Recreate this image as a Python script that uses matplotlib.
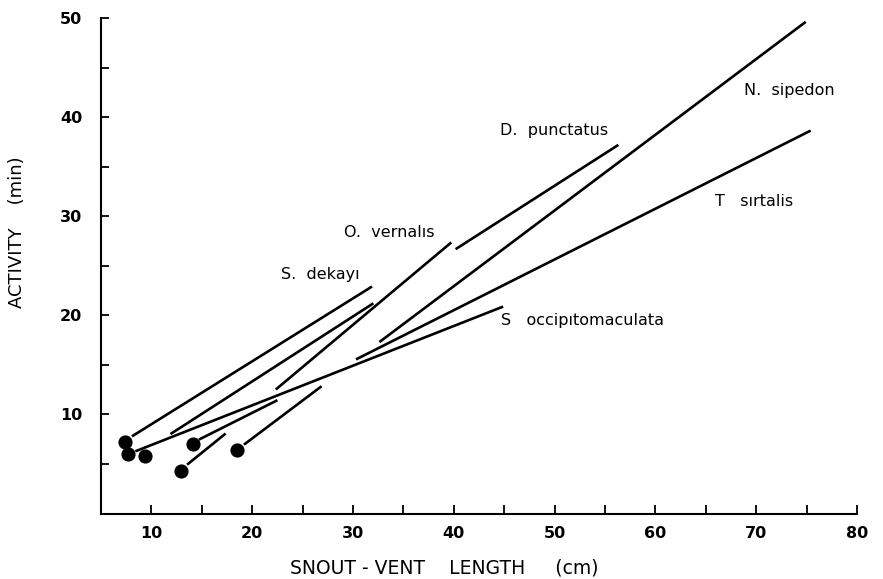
import matplotlib
matplotlib.use("Agg")
import matplotlib.pyplot as plt
from matplotlib.ticker import FixedLocator

# ---- data ----
# regression line segments: (x_start, y_start, x_end, y_end)
species = ["S. dekayi", "S. dekayi 2", "O. vernalis", "D. punctatus",
           "N. sipedon", "T. sirtalis", "S. occipitomaculata",
           "small 1", "small 2", "small 3"]
x_start = [8.07, 11.89, 22.34, 40.18, 32.62, 30.30, 8.41, 14.71, 13.54, 19.18]
y_start = [7.79, 8.02, 12.52, 26.69, 17.31, 15.56, 6.28, 7.46, 4.93, 6.95]
x_end = [31.89, 32.02, 39.75, 56.33, 74.91, 75.40, 44.89, 22.50, 17.36, 26.88]
y_end = [22.92, 21.22, 27.37, 37.22, 49.64, 38.66, 20.89, 11.44, 8.07, 12.85]

# single-value points
pt_x = [7.34, 7.67, 9.40, 14.11, 12.95, 18.46]
pt_y = [7.23, 5.97, 5.84, 7.02, 4.25, 6.38]

# species labels: text, x, y(baseline), horizontal alignment
lab_text = ["S.  dekayı", "O.  vernalıs", "D.  punctatus", "N.  sipedon",
            "T   sırtalis", "S   occipıtomaculata"]
lab_x = [26.78, 33.61, 49.95, 73.31, 69.82, 44.73]
lab_y = [23.65, 27.87, 38.23, 42.21, 31.07, 19.03]
lab_ha = ["center", "center", "center", "center", "center", "left"]

x_ticks = [10, 20, 30, 40, 50, 60, 70, 80]
x_minor = [5, 15, 25, 35, 45, 55, 65, 75]
y_ticks = [10, 20, 30, 40, 50]
y_minor = [5, 15, 25, 35, 45]

plt.rcParams['font.family'] = ['DejaVu Sans']

fig = plt.figure(figsize=(8.83, 5.79), dpi=100)
ax = fig.add_axes([101 / 883, 1 - 513.5 / 579, 756 / 883, (513.5 - 18.3) / 579])

for xs, ys, xe, ye in zip(x_start, y_start, x_end, y_end):
    ax.plot([xs, xe], [ys, ye], color="black", lw=1.9, solid_capstyle="butt")

ax.plot(pt_x, pt_y, linestyle="none", marker="o", ms=9.2, color="black")

for t, x, y, ha in zip(lab_text, lab_x, lab_y, lab_ha):
    ax.text(x, y, t, ha=ha, va="baseline", fontsize=11.5, color="black")

ax.set_xlim(5, 80)
ax.set_ylim(0, 50)
ax.xaxis.set_major_locator(FixedLocator(x_ticks))
ax.xaxis.set_minor_locator(FixedLocator(x_minor))
ax.yaxis.set_major_locator(FixedLocator(y_ticks))
ax.yaxis.set_minor_locator(FixedLocator(y_minor))
ax.set_xticklabels([str(v) for v in x_ticks])
ax.set_yticklabels([str(v) for v in y_ticks])

for s in ["top", "right"]:
    ax.spines[s].set_visible(False)
for s in ["left", "bottom"]:
    ax.spines[s].set_linewidth(1.5)

ax.tick_params(axis="x", which="both", direction="in", length=6.5, width=1.3,
               pad=9, labelsize=11.5)
ax.tick_params(axis="y", which="both", direction="in", length=5.5, width=1.3,
               pad=13.5, labelsize=11.5)
for lab in ax.get_xticklabels() + ax.get_yticklabels():
    lab.set_fontweight("bold")

ax.set_xlabel("SNOUT - VENT    LENGTH     (cm)", fontsize=13.5)
ax.xaxis.label.set_va("center")
ax.xaxis.set_label_coords((444 - 101) / 756, (513.5 - 568) / 495.2)

ax.set_ylabel("ACTIVITY    (min)", fontsize=13)
ax.yaxis.label.set_va("center")
ax.yaxis.set_label_coords((17 - 101) / 756, (513.5 - 232) / 495.2)

fig.savefig("out.png", dpi=100)
